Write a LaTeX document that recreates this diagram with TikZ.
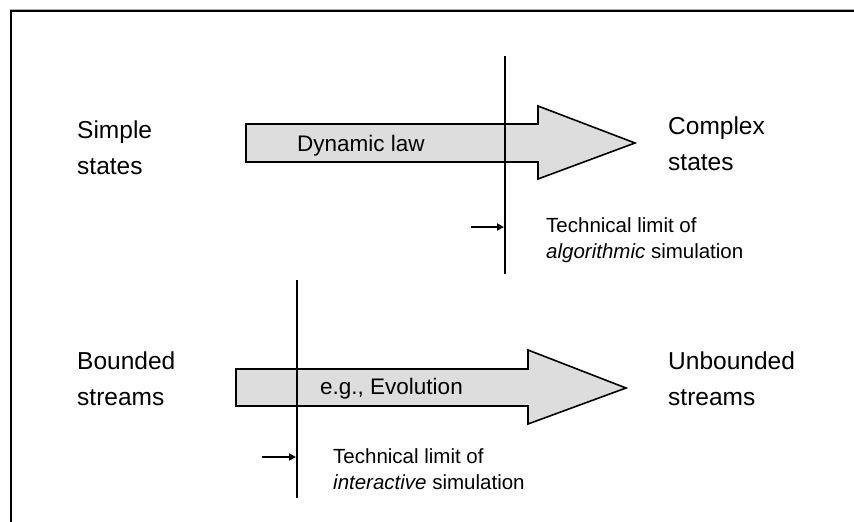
\documentclass[tikz,border=0pt]{standalone}
\usepackage{fontspec}
\setmainfont{Liberation Sans}
\usetikzlibrary{arrows.meta}
\begin{document}
\begin{tikzpicture}[x=1pt,y=-1pt,
  bigtext/.style={anchor=west,align=left,inner sep=0pt,font=\fontsize{24.5}{36}\selectfont},
  midtext/.style={anchor=west,inner sep=0pt,font=\fontsize{22.5}{26}\selectfont},
  limittext/.style={anchor=west,align=left,inner sep=0pt,font=\fontsize{20.5}{25.5}\selectfont},
  flowarrow/.style={draw=black,line width=1.6pt,fill=gray!27,line join=miter},
  limitline/.style={draw=black,line width=1.6pt},
  pointer/.style={draw=black,line width=2.4pt,-{Triangle[length=7pt,width=7pt]}}]
\useasboundingbox (0,0) rectangle (854,522);
% frame edges
\draw[gray!60,line width=1pt] (10,9) -- (854,9);
\draw[black,line width=2pt] (10,10.5) -- (854,10.5);
\draw[black,line width=2pt] (10.5,10) -- (10.5,522);

% upper process arrow
\draw[flowarrow] (246,124) -- (538,124) -- (538,106) -- (635,143)
  -- (538,179) -- (538,162) -- (246,162) -- cycle;
\node[midtext] (law) at (297,146) {Dynamic law};
\coordinate (ltop) at (505,56);
\coordinate (lbot) at (505,274);
\draw[limitline] (ltop) -- (lbot);

% lower process arrow
\draw[flowarrow] (236,369) -- (528,369) -- (528,350) -- (626,388)
  -- (528,424) -- (528,406) -- (236,406) -- cycle;
\node[midtext] (evo) at (320,389) {e.g., Evolution};
\coordinate (mtop) at (297,280);
\coordinate (mbot) at (297,498);
\draw[limitline] (mtop) -- (mbot);

% state labels
\node[bigtext] (simple) at (77,148) {Simple\\states};
\node[bigtext] (complex) at (668,144) {Complex\\states};
\node[bigtext] (bounded) at (77,379) {Bounded\\streams};
\node[bigtext] (unbounded) at (668,379) {Unbounded\\streams};

% technical limits
\node[limittext] (alglimit) at (546,240) {Technical limit of\\\textit{algorithmic} simulation};
\coordinate (p1s) at (471,227);
\coordinate (p1e) at (504,227);
\draw[pointer] (p1s) -- (p1e);

\node[limittext] (intlimit) at (333,469) {Technical limit of\\\textit{interactive} simulation};
\coordinate (p2s) at (262,457);
\coordinate (p2e) at (296,457);
\draw[pointer] (p2s) -- (p2e);
\end{tikzpicture}
\end{document}
